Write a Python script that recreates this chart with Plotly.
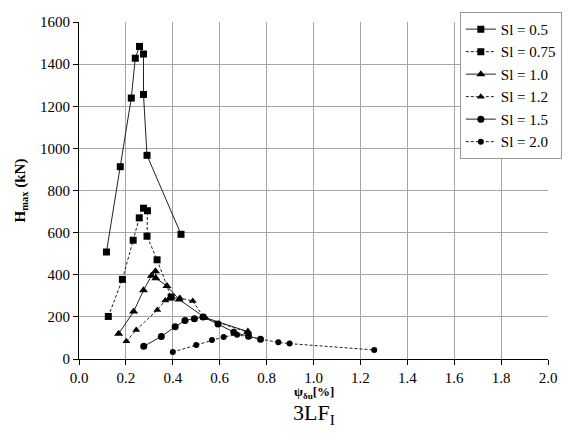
import plotly.graph_objects as go

names = ["Sl = 0.5", "Sl = 0.75", "Sl = 1.0", "Sl = 1.2", "Sl = 1.5", "Sl = 2.0"]

x_05 = [0.117, 0.176, 0.223, 0.240, 0.258, 0.275, 0.275, 0.290, 0.435]
y_05 = [508, 913, 1239, 1428, 1484, 1448, 1256, 967, 592]

x_075 = [0.125, 0.185, 0.231, 0.257, 0.275, 0.292, 0.290, 0.333, 0.393]
y_075 = [202, 378, 564, 670, 716, 704, 583, 471, 294]

x_10 = [0.169, 0.233, 0.275, 0.309, 0.326, 0.328, 0.375, 0.427, 0.537, 0.720]
y_10 = [120, 225, 326, 395, 417, 383, 347, 282, 197, 130]

x_12 = [0.202, 0.244, 0.334, 0.368, 0.385, 0.430, 0.485, 0.534, 0.720]
y_12 = [84, 138, 233, 278, 287, 290, 275, 195, 127]

x_15 = [0.276, 0.351, 0.410, 0.452, 0.492, 0.529, 0.593, 0.660, 0.723, 0.774]
y_15 = [60, 107, 153, 183, 191, 199, 166, 127, 108, 94]

x_20 = [0.400, 0.500, 0.567, 0.617, 0.674, 0.850, 0.898, 1.259]
y_20 = [33, 67, 90, 105, 115, 79, 73, 43]

xs = [x_05, x_075, x_10, x_12, x_15, x_20]
ys = [y_05, y_075, y_10, y_12, y_15, y_20]
symbols = ["square", "square", "triangle-up", "triangle-up", "circle", "circle"]
dashes = ["solid", "3px,2px", "solid", "3px,2px", "solid", "3px,2px"]
msize = [7, 7, 8, 7, 7, 6]

x_ticks = [0.0, 0.2, 0.4, 0.6, 0.8, 1.0, 1.2, 1.4, 1.6, 1.8, 2.0]
y_ticks = [0, 200, 400, 600, 800, 1000, 1200, 1400, 1600]

FONT = "Liberation Serif"

fig = go.Figure()
for n, x, y, s, d, m in zip(names, xs, ys, symbols, dashes, msize):
    fig.add_trace(go.Scatter(
        x=x, y=y, name=n, mode="lines+markers",
        line=dict(color="#222222", width=1, dash=d),
        marker=dict(symbol=s, size=m, color="black"),
    ))

fig.update_layout(
    width=574, height=444,
    margin=dict(l=79, r=22, t=15, b=85),
    paper_bgcolor="white", plot_bgcolor="white",
    font=dict(family=FONT, size=15, color="black"),
    showlegend=True,
    legend=dict(
        x=0.812, y=1.03, xanchor="left", yanchor="top",
        bgcolor="white", bordercolor="#999999", borderwidth=1,
        font=dict(family=FONT, size=15), tracegroupgap=0,
        itemwidth=30,
    ),
    xaxis=dict(
        range=[0, 2.0], tickvals=x_ticks, ticktext=[f"{v:.1f}" for v in x_ticks],
        showgrid=True, gridcolor="#a6a6a6", gridwidth=1,
        showline=True, linecolor="black", linewidth=1,
        ticks="outside", ticklen=5, tickcolor="black",
        zeroline=False, tickfont=dict(family=FONT, size=15),
    ),
    yaxis=dict(
        range=[0, 1600], tickvals=y_ticks,
        showgrid=True, gridcolor="#a6a6a6", gridwidth=1,
        showline=True, linecolor="black", linewidth=1,
        ticks="outside", ticklen=5, tickcolor="black",
        zeroline=False, tickfont=dict(family=FONT, size=15),
        title=dict(text="<b>H<sub>max</sub> (kN)</b>", font=dict(family=FONT, size=15), standoff=10),
    ),
    annotations=[
        dict(text="<b>ψ<sub>δu</sub>[%]</b>", x=0.5, y=0, xref="paper", yref="paper",
             xanchor="center", yanchor="top", yshift=-23, showarrow=False,
             font=dict(family=FONT, size=13)),
        dict(text="3LF<sub>I</sub>", x=0.5, y=0, xref="paper", yref="paper",
             xanchor="center", yanchor="top", yshift=-39, showarrow=False,
             font=dict(family=FONT, size=22)),
    ],
)

fig.write_html("out.html")
